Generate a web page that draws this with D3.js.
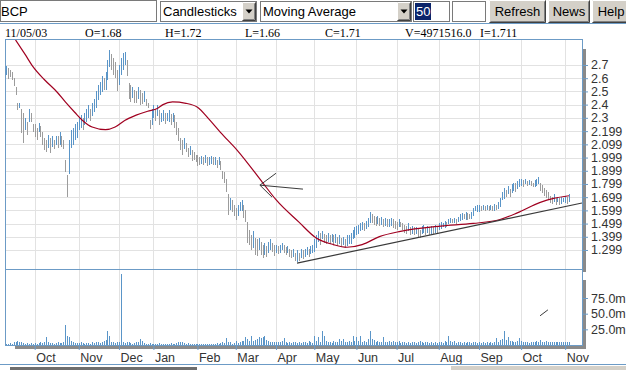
<!DOCTYPE html>
<html>
<head>
<meta charset="utf-8">
<script src="https://cdn.jsdelivr.net/npm/d3@7"></script>
<style>
  body { margin: 0; background: #fff; overflow: hidden; }
  svg { display: block; }
</style>
</head>
<body>
<div id="container"></div>
<script>
let w = 626;
let h = 370;

// ---- DATA ----
// trading days: partial Sep 2002, then one entry per month
let firstDays = 15;
let monthLabels = ["Oct","Nov","Dec","Jan","Feb","Mar","Apr","May","Jun","Jul","Aug","Sep","Oct","Nov"];
let monthDays = [23,21,18,23,20,21,20,22,21,22,21,22,23,3];

let highs = [
  2.69,2.68,2.66,2.65,2.60,2.53,2.41,2.41,2.37,2.34,2.30,2.27,2.37,2.34,2.25,
  2.25,2.22,2.26,2.24,2.19,2.15,2.13,2.17,2.15,2.16,2.13,2.16,2.16,2.19,2.16,2.13,1.98,1.87,2.13,2.21,2.22,2.25,2.27,
  2.30,2.32,2.30,2.34,2.37,2.40,2.37,2.41,2.44,2.50,2.55,2.57,2.62,2.60,2.65,2.74,2.81,2.78,2.75,2.72,2.66,
  2.70,2.75,2.79,2.80,2.74,2.56,2.55,2.53,2.51,2.50,2.53,2.51,2.49,2.50,2.44,2.41,2.28,2.37,2.40,
  2.37,2.40,2.36,2.34,2.36,2.34,2.34,2.36,2.33,2.34,2.32,2.27,2.22,2.15,2.13,2.15,2.11,2.07,2.09,2.06,2.04,2.02,
  2.02,2.00,2.01,2.00,2.02,2.00,2.00,2.01,2.00,2.00,1.98,2.00,1.97,1.90,1.89,1.84,1.72,1.69,1.68,1.64,
  1.62,1.64,1.66,1.68,1.64,1.60,1.51,1.45,1.41,1.44,1.39,1.38,1.39,1.36,1.34,1.35,1.33,1.36,1.38,1.35,1.34,
  1.34,1.33,1.34,1.35,1.34,1.32,1.33,1.31,1.30,1.31,1.28,1.30,1.28,1.31,1.30,1.31,1.32,1.31,1.33,1.34,
  1.38,1.41,1.44,1.43,1.44,1.42,1.41,1.43,1.41,1.42,1.41,1.42,1.40,1.41,1.39,1.40,1.38,1.41,1.41,1.43,1.45,
  1.47,1.48,1.49,1.50,1.51,1.50,1.52,1.54,1.59,1.57,1.56,1.55,1.56,1.54,1.55,1.53,1.54,1.53,1.53,1.54,1.53,
  1.52,1.51,1.53,1.51,1.50,1.49,1.48,1.50,1.47,1.48,1.47,1.47,1.46,1.45,1.48,1.49,1.47,1.48,1.47,1.48,1.47,1.49,1.48,
  1.50,1.51,1.50,1.52,1.51,1.53,1.54,1.53,1.54,1.53,1.55,1.57,1.58,1.57,1.59,1.58,1.57,1.59,1.62,1.63,1.64,
  1.64,1.63,1.64,1.63,1.64,1.63,1.64,1.63,1.65,1.64,1.66,1.69,1.74,1.77,1.75,1.78,1.76,1.80,1.81,1.81,1.82,1.84,
  1.84,1.83,1.84,1.82,1.83,1.82,1.81,1.83,1.84,1.85,1.81,1.79,1.77,1.75,1.74,1.71,1.70,1.72,1.69,1.70,1.69,1.70,1.69,
  1.71,1.70,1.72
];
let lows = [
  2.62,2.60,2.61,2.59,2.54,2.47,2.36,2.37,2.19,2.11,2.21,2.17,2.27,2.27,2.19,
  2.15,2.13,2.19,2.16,2.09,2.06,2.04,2.07,2.04,2.08,2.06,2.09,2.07,2.09,2.08,2.06,1.89,1.70,1.87,2.07,2.09,2.13,2.15,
  2.21,2.22,2.21,2.25,2.27,2.30,2.28,2.31,2.34,2.37,2.44,2.47,2.50,2.51,2.51,2.59,2.68,2.66,2.62,2.60,2.50,
  2.55,2.62,2.66,2.70,2.62,2.44,2.42,2.45,2.41,2.41,2.44,2.40,2.41,2.42,2.39,2.37,2.21,2.25,2.30,
  2.28,2.32,2.25,2.27,2.28,2.26,2.28,2.27,2.25,2.27,2.22,2.17,2.12,2.06,2.02,2.07,2.04,2.00,2.02,1.98,1.98,1.97,
  1.94,1.94,1.95,1.94,1.96,1.93,1.94,1.95,1.94,1.94,1.92,1.94,1.90,1.84,1.81,1.74,1.56,1.60,1.59,1.56,
  1.53,1.56,1.59,1.60,1.54,1.51,1.35,1.34,1.30,1.31,1.26,1.25,1.30,1.26,1.24,1.26,1.25,1.28,1.30,1.28,1.26,
  1.28,1.27,1.28,1.30,1.28,1.26,1.28,1.25,1.24,1.25,1.22,1.21,1.22,1.24,1.23,1.25,1.26,1.25,1.27,1.28,
  1.28,1.31,1.36,1.34,1.38,1.35,1.34,1.36,1.34,1.36,1.34,1.35,1.33,1.34,1.32,1.34,1.31,1.33,1.34,1.35,1.38,
  1.39,1.41,1.42,1.44,1.45,1.44,1.46,1.47,1.51,1.50,1.49,1.48,1.50,1.48,1.49,1.47,1.48,1.47,1.47,1.48,1.46,
  1.46,1.45,1.47,1.47,1.45,1.43,1.42,1.44,1.41,1.42,1.41,1.42,1.40,1.39,1.42,1.43,1.41,1.43,1.41,1.42,1.42,1.43,1.42,
  1.45,1.46,1.47,1.47,1.47,1.49,1.50,1.50,1.50,1.49,1.51,1.52,1.53,1.53,1.53,1.53,1.53,1.54,1.56,1.59,1.59,
  1.59,1.59,1.60,1.59,1.60,1.59,1.60,1.59,1.60,1.60,1.61,1.62,1.68,1.69,1.70,1.72,1.70,1.73,1.75,1.74,1.76,1.78,
  1.79,1.78,1.80,1.78,1.79,1.78,1.78,1.78,1.79,1.80,1.75,1.73,1.71,1.69,1.68,1.66,1.65,1.66,1.64,1.66,1.64,1.65,1.66,
  1.66,1.65,1.66
];
// volume, millions of shares
let volumes = [
  2,2,3,2,5,5,6,5,5,3,2,3,2,3,2,
  3,2,3,4,3,5,13,4,3,3,2,3,4,3,3,5,32,14,12,6,4,3,3,
  3,4,3,2,3,3,2,4,3,5,4,3,5,6,8,23,15,5,4,3,5,
  4,113,5,3,5,4,3,2,3,4,5,9,6,3,2,2,3,2,2,
  2,2,3,2,2,2,2,2,3,2,2,3,4,5,4,3,2,3,2,2,2,2,
  2,2,2,2,2,2,2,2,2,2,3,2,3,4,3,11,5,4,2,3,
  7,3,4,6,7,13,9,7,14,6,8,10,12,11,13,14,8,6,4,5,4,
  4,5,4,6,11,5,3,4,3,5,4,3,4,3,5,4,3,6,4,3,
  15,6,12,5,22,15,6,4,5,3,6,4,5,10,7,10,5,4,6,5,15,
  6,13,7,15,5,6,4,9,22,10,8,5,6,4,5,13,5,4,6,4,6,
  5,4,6,3,4,5,3,4,3,5,4,3,5,6,4,3,5,4,3,4,3,4,3,
  4,5,3,6,5,15,6,4,6,3,4,5,3,4,3,5,4,3,5,4,3,
  4,3,5,3,4,3,4,3,5,11,5,8,9,22,8,13,6,7,5,4,6,11,
  6,5,4,5,3,4,5,4,6,5,8,5,4,6,5,4,5,4,5,4,5,4,5,
  4,5,4.97
];

// 50 day moving average (day index, value)
let maDays = [5,10,14,20,27,31,36,40,45,52,57,62,68,74,79,82,87,94,100,106,112,121,134,141,153,162,171,178,186,195,206,227,244,258,267,279,286,294];
let maValues = [2.89,2.78,2.69,2.59,2.49,2.42,2.34,2.28,2.23,2.21,2.23,2.28,2.32,2.35,2.37,2.40,2.42,2.41,2.38,2.29,2.19,2.05,1.81,1.68,1.51,1.39,1.34,1.32,1.34,1.40,1.44,1.48,1.50,1.53,1.58,1.66,1.69,1.71];

// hand drawn trend line and arrow (day index, price)
let trendLine = [[152, 1.20], [300.8, 1.655]];
let arrowLines = [
  [[132.6, 1.79], [155.1, 1.76]],
  [[132.6, 1.79], [141.0, 1.88]],
  [[132.6, 1.79], [138.9, 1.70]]
];
// small stroke in the volume panel (day index, millions)
let volMark = [[278.9, 46.6], [283, 56.1]];

let priceTicks = [2.7,2.6,2.5,2.4,2.3,2.199,2.099,1.999,1.899,1.799,1.699,1.599,1.499,1.399,1.299];
let priceTickLabels = ["2.7","2.6","2.5","2.4","2.3","2.199","2.099","1.999","1.899","1.799","1.699","1.599","1.499","1.399","1.299"];
let volTicks = [75, 50, 25];
let volTickLabels = ["75.0m","50.0m","25.0m"];

let quote = ["11/05/03","O=1.68","H=1.72","L=1.66","C=1.71","V=4971516.0","I=1.711"];

// ---- COLOURS ----
let frameColor = "#6c9bc6";
let blue = "#5a95c8";
let gray = "#9c9c9c";
let gridColor = "#e2e2e2";
let textColor = "#333";

let svg = d3.select("#container").append("svg")
  .attr("width", w)
  .attr("height", h)
  .style("font-family", "'Liberation Sans', Arial, sans-serif");

// ---- TOOLBAR ----
let tb = svg.append("g");

function sunken(x0, x1, y0, y1) {
  tb.append("rect")
    .attr("x", x0 + 0.5).attr("y", y0 + 0.5)
    .attr("width", x1 - x0 - 1).attr("height", y1 - y0 - 1)
    .attr("fill", "#fff").attr("stroke", "#7a7a7a");
}

function raised(x0, x1, y0, y1) {
  tb.append("rect").attr("x", x0).attr("y", y0)
    .attr("width", x1 - x0).attr("height", y1 - y0).attr("fill", "#d4d0c8");
  tb.append("path").attr("d", `M${x0 + 0.5},${y1 - 1}V${y0 + 0.5}H${x1 - 1}`)
    .attr("stroke", "#fff").attr("fill", "none");
  tb.append("path").attr("d", `M${x0 + 0.5},${y1 - 0.5}H${x1 - 0.5}V${y0 + 0.5}`)
    .attr("stroke", "#404040").attr("fill", "none");
  tb.append("path").attr("d", `M${x0 + 1.5},${y1 - 1.5}H${x1 - 1.5}V${y0 + 1.5}`)
    .attr("stroke", "#808080").attr("fill", "none");
}

function label(txt, xx, anchor, color) {
  tb.append("text").attr("x", xx).attr("y", 16)
    .attr("text-anchor", anchor || "start")
    .attr("fill", color || "#000")
    .style("font-size", "13px")
    .text(txt);
}

function dropdown(x0, x1, txt) {
  sunken(x0, x1, 1, 22);
  raised(x1 - 15, x1 - 1, 2, 21);
  let cx = x1 - 8, cy = 11;
  tb.append("path").attr("d", `M${cx - 3.5},${cy - 1.5}h7l-3.5,4z`).attr("fill", "#000");
  label(txt, x0 + 3);
}

sunken(0, 157, 0, 22);
label("BCP", 1);
dropdown(160, 257, "Candlesticks");
dropdown(260, 412, "Moving Average");
sunken(413, 450, 1, 22);
tb.append("rect").attr("x", 415).attr("y", 3).attr("width", 16).attr("height", 17).attr("fill", "#0a246a");
label("50", 416, "start", "#fff");
sunken(452, 486, 1, 22);
raised(489, 546, 0, 23);
label("Refresh", 517.5, "middle");
raised(548, 590, 0, 23);
label("News", 569, "middle");
raised(592, 632, 0, 23);
label("Help", 611, "middle");

svg.append("line").attr("x1", 0).attr("x2", w).attr("y1", 23.5).attr("y2", 23.5)
  .attr("stroke", frameColor);

// quote line
let quoteX = [5, 85, 165, 245, 325, 405, 480];
svg.selectAll(".quote").data(quote).enter()
  .append("text")
  .attr("class", "quote")
  .attr("x", function (d, i) { return quoteX[i]; })
  .attr("y", 37)
  .style("font-family", "'Liberation Serif', 'Times New Roman', serif")
  .style("font-size", "12px")
  .attr("fill", "#000")
  .text(function (d) { return d; });

// ---- SCALES ----
let totalDays = firstDays + d3.sum(monthDays);
let x = d3.scaleLinear().domain([-0.5, totalDays + 5.8]).range([5, 582]);
let y = d3.scaleLinear().domain([1.1551, 2.8893]).range([269, 40]);
let yv = d3.scaleLinear().domain([0, 121.3]).range([345, 269]);

let monthTicks = [];
let acc = firstDays;
monthDays.forEach(function (n) { monthTicks.push(acc); acc += n; });

// shadows
svg.append("rect").attr("x", 583).attr("y", 49).attr("width", 3).attr("height", 223).attr("fill", "#8a8a8a");
svg.append("rect").attr("x", 583).attr("y", 280).attr("width", 3).attr("height", 69).attr("fill", "#8a8a8a");
svg.append("rect").attr("x", 15).attr("y", 346).attr("width", 571).attr("height", 3).attr("fill", "#8a8a8a");

// panel backgrounds
svg.append("rect").attr("x", 5).attr("y", 39).attr("width", 577).attr("height", 306).attr("fill", "#fff");

// grid
let grid = svg.append("g").attr("shape-rendering", "crispEdges");
grid.selectAll(".vgrid").data(monthTicks).enter()
  .append("line")
  .attr("x1", function (d) { return Math.round(x(d)) + 0.5; })
  .attr("x2", function (d) { return Math.round(x(d)) + 0.5; })
  .attr("y1", 40).attr("y2", 345)
  .attr("stroke", gridColor);
grid.selectAll(".hgrid").data(priceTicks).enter()
  .append("line")
  .attr("x1", 5).attr("x2", 582)
  .attr("y1", function (d) { return Math.round(y(d)) + 0.5; })
  .attr("y2", function (d) { return Math.round(y(d)) + 0.5; })
  .attr("stroke", gridColor);

// ---- PRICE BARS ----
let days = highs.map(function (hi, i) {
  return { i: i, hi: hi, lo: lows[i], vol: volumes[i] };
});

svg.append("g").attr("shape-rendering", "crispEdges")
  .selectAll("rect").data(days).enter()
  .append("rect")
  .attr("x", function (d) { return Math.round(x(d.i)); })
  .attr("y", function (d) { return Math.round(y(d.hi)); })
  .attr("width", 1)
  .attr("height", function (d) { return Math.max(1, Math.round(y(d.lo) - y(d.hi))); })
  .attr("fill", function (d, i) {
    if (i == 0) { return blue; }
    let prev = days[i - 1];
    return (d.hi + d.lo) < (prev.hi + prev.lo) - 0.005 ? gray : blue;
  });

// ---- VOLUME BARS ----
svg.append("g").attr("shape-rendering", "crispEdges")
  .selectAll("rect").data(days).enter()
  .append("rect")
  .attr("x", function (d) { return Math.round(x(d.i)); })
  .attr("y", function (d) { return Math.round(yv(d.vol)); })
  .attr("width", 1)
  .attr("height", function (d) { return 345 - Math.round(yv(d.vol)); })
  .attr("fill", blue);

// ---- LINES ----
svg.append("clipPath").attr("id", "priceClip")
  .append("rect").attr("x", 5).attr("y", 40).attr("width", 577).attr("height", 229);

let maLine = d3.line()
  .x(function (d) { return x(d[0]); })
  .y(function (d) { return y(d[1]); })
  .curve(d3.curveMonotoneX);

svg.append("path")
  .datum(maDays.map(function (d, i) { return [d, maValues[i]]; }))
  .attr("d", maLine)
  .attr("clip-path", "url(#priceClip)")
  .attr("fill", "none")
  .attr("stroke", "#a00020")
  .attr("stroke-width", 1.2);

let straight = d3.line()
  .x(function (d) { return x(d[0]); })
  .y(function (d) { return y(d[1]); });

svg.append("path").datum(trendLine).attr("d", straight)
  .attr("fill", "none").attr("stroke", "#3a3a3a").attr("stroke-width", 1.2);

svg.selectAll(".arrow").data(arrowLines).enter()
  .append("path").attr("class", "arrow")
  .attr("d", straight)
  .attr("fill", "none").attr("stroke", "#3a3a3a").attr("stroke-width", 1);

svg.append("path").datum(volMark)
  .attr("d", d3.line().x(function (d) { return x(d[0]); }).y(function (d) { return yv(d[1]); }))
  .attr("fill", "none").attr("stroke", "#3a3a3a").attr("stroke-width", 1);

// ---- FRAME ----
let frame = svg.append("g").attr("shape-rendering", "crispEdges")
  .attr("fill", "none").attr("stroke", frameColor);
frame.append("rect").attr("x", 5.5).attr("y", 39.5).attr("width", 576.5).attr("height", 305.5);
frame.append("line").attr("x1", 5).attr("x2", 582).attr("y1", 269.5).attr("y2", 269.5);

// ---- AXES ----
let priceAxis = d3.axisRight(y)
  .tickValues(priceTicks)
  .tickFormat(function (d, i) { return priceTickLabels[i]; })
  .tickSize(6).tickPadding(3);
let volAxis = d3.axisRight(yv)
  .tickValues(volTicks)
  .tickFormat(function (d, i) { return volTickLabels[i]; })
  .tickSize(6).tickPadding(3);
let monthAxis = d3.axisBottom(x)
  .tickValues(monthTicks)
  .tickFormat(function (d, i) { return monthLabels[i]; })
  .tickSize(5).tickPadding(3);

function styleAxis(g) {
  g.select(".domain").remove();
  g.selectAll(".tick line").attr("stroke", frameColor);
  g.selectAll(".tick text")
    .attr("fill", textColor)
    .style("font-family", "'Liberation Sans', Arial, sans-serif")
    .style("font-size", "12.5px");
}

svg.append("g").attr("transform", "translate(582,0)").call(priceAxis).call(styleAxis);
svg.append("g").attr("transform", "translate(582,0)").call(volAxis).call(styleAxis);
let mAxis = svg.append("g").attr("transform", "translate(0,345)").call(monthAxis).call(styleAxis);
mAxis.selectAll(".tick text").attr("text-anchor", "start").attr("dx", 1);

// ---- BOTTOM STRIP ----
svg.append("line").attr("x1", 0).attr("x2", w).attr("y1", 364.5).attr("y2", 364.5).attr("stroke", frameColor);
svg.append("rect").attr("x", 10).attr("y", 367).attr("width", 187).attr("height", 3).attr("fill", "#6e6e6e");
svg.append("rect").attr("x", 451).attr("y", 366).attr("width", 175).attr("height", 4).attr("fill", "#d4d0c8");
</script>
</body>
</html>
